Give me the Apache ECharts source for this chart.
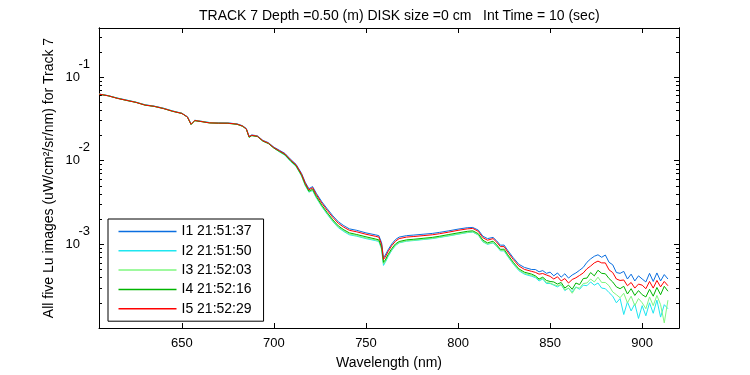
<!DOCTYPE html>
<html>
<head>
<meta charset="utf-8">
<script src="https://cdn.jsdelivr.net/npm/echarts@6/dist/echarts.min.js"></script>
<style>html,body{margin:0;padding:0;background:#fff}#c{width:750px;height:375px}</style>
</head>
<body>
<div id="c"></div>
<script>
const wavelengths = [605,610,615,620,625,630,635,640,645,650,653,655,657,660,665,670,675,680,683,685,686.5,688,691,694,697,700,
703,706,709,712,715,717,719,721,723,726,729,732,735,738,741,745,750,755,757,758.5,759.5,760.5,762,764,766,768,772,776,781,786,790,795,800,805,808,811,813.5,816,819,821,823,825,827,830,833,836,840,
842,844,846,848,850,852,854,856,858,860,862,864,866,868,870,872,874,876,878,880,882,884,886,888,890,892,894,896,898,900,902,904,906,908,910,912,914];

const seriesNames = ['I1 21:51:37','I2 21:51:50','I3 21:52:03','I4 21:52:16','I5 21:52:29'];

const i1 = [0.0626,0.0598,0.0560,0.0530,0.0500,0.0465,0.0448,0.0424,0.0392,0.0369,0.0335,0.0275,0.0304,0.0297,0.0285,0.0283,0.0282,0.0275,0.0261,0.0242,0.0196,0.0203,0.0198,0.0175,0.0164,0.0145,
0.0133,0.0122,0.0104,0.00905,0.00705,0.00552,0.00462,0.00490,0.00408,0.00323,0.00265,0.00219,0.00186,0.00167,0.00153,0.00147,0.00137,0.00130,0.00127,0.00104,0.000690,0.000745,0.000860,0.00101,0.00114,0.00122,0.00127,0.00129,0.00132,0.00135,0.00139,0.00145,0.00152,0.00158,0.00159,0.00148,0.00125,0.00117,0.00121,0.00110,0.000975,0.000980,0.000845,0.000690,0.000578,0.000530,0.000500,
0.000500,0.000470,0.000485,0.000450,0.000465,0.000420,0.000455,0.000405,0.000445,0.000395,0.000430,0.000455,0.000490,0.000530,0.000610,0.000670,0.000720,0.000750,0.000700,0.000745,0.000610,0.000570,0.000460,0.000450,0.000475,0.000385,0.000440,0.000365,0.000420,0.000385,0.000355,0.000450,0.000360,0.000455,0.000365,0.000435,0.000385];

const i2 = [0.0625,0.0599,0.0558,0.0528,0.0501,0.0466,0.0447,0.0422,0.0393,0.0368,0.0334,0.0273,0.0303,0.0296,0.0286,0.0282,0.0283,0.0274,0.0260,0.0241,0.0192,0.0200,0.0195,0.0172,0.0161,0.0142,
0.0127,0.0116,0.0098,0.00855,0.00655,0.00505,0.00420,0.00440,0.00360,0.00282,0.00228,0.00187,0.00158,0.00142,0.00130,0.00125,0.00117,0.00111,0.00108,0.000870,0.000560,0.000610,0.000715,0.000845,0.000965,0.00104,0.00109,0.00111,0.00114,0.00117,0.00121,0.00126,0.00132,0.00138,0.00140,0.00129,0.00107,0.00100,0.00104,0.000945,0.000835,0.000835,0.000715,0.000580,0.000485,0.000440,0.000415,
0.000400,0.000365,0.000385,0.000340,0.000340,0.000325,0.000310,0.000330,0.000280,0.000300,0.000270,0.000310,0.000290,0.000325,0.000320,0.000355,0.000325,0.000345,0.000300,0.000295,0.000265,0.000240,0.000200,0.000225,0.000145,0.000205,0.000160,0.000195,0.000130,0.000185,0.000140,0.000200,0.000150,0.000215,0.000135,0.000190,0.000170];

const i3 = [0.0623,0.0597,0.0557,0.0525,0.0499,0.0463,0.0444,0.0421,0.0389,0.0368,0.0331,0.0271,0.0301,0.0296,0.0284,0.0280,0.0280,0.0271,0.0258,0.0239,0.0191,0.0200,0.0195,0.0172,0.0161,0.0142,
0.0128,0.0117,0.0099,0.00860,0.00660,0.00510,0.00425,0.00445,0.00365,0.00285,0.00232,0.00190,0.00161,0.00145,0.00133,0.00127,0.00119,0.00113,0.00110,0.000890,0.000585,0.000625,0.000730,0.000860,0.000980,0.00105,0.00110,0.00112,0.00115,0.00118,0.00122,0.00127,0.00133,0.00139,0.00141,0.00130,0.00108,0.00101,0.00105,0.000955,0.000845,0.000845,0.000725,0.000590,0.000495,0.000450,0.000425,
0.000410,0.000375,0.000395,0.000350,0.000345,0.000330,0.000320,0.000330,0.000285,0.000300,0.000260,0.000305,0.000300,0.000340,0.000345,0.000385,0.000355,0.000405,0.000350,0.000350,0.000320,0.000270,0.000250,0.000230,0.000260,0.000200,0.000240,0.000185,0.000225,0.000200,0.000170,0.000235,0.000185,0.000245,0.000190,0.000115,0.000215];

const i4 = [0.0622,0.0595,0.0556,0.0524,0.0497,0.0460,0.0445,0.0419,0.0388,0.0366,0.0332,0.0270,0.0300,0.0294,0.0282,0.0280,0.0279,0.0272,0.0257,0.0238,0.0190,0.0199,0.0194,0.0171,0.0160,0.0141,
0.0129,0.0118,0.0100,0.00870,0.00670,0.00520,0.00432,0.00455,0.00374,0.00293,0.00238,0.00196,0.00166,0.00149,0.00137,0.00131,0.00123,0.00116,0.00113,0.000920,0.000610,0.000650,0.000755,0.000890,0.00101,0.00108,0.00113,0.00115,0.00118,0.00121,0.00125,0.00131,0.00137,0.00143,0.00145,0.00134,0.00112,0.00104,0.00109,0.000985,0.000870,0.000875,0.000750,0.000610,0.000510,0.000465,0.000440,
0.000420,0.000385,0.000405,0.000370,0.000360,0.000355,0.000335,0.000350,0.000300,0.000325,0.000290,0.000345,0.000330,0.000390,0.000395,0.000460,0.000420,0.000490,0.000450,0.000445,0.000390,0.000355,0.000310,0.000295,0.000315,0.000255,0.000295,0.000245,0.000280,0.000250,0.000235,0.000290,0.000240,0.000305,0.000250,0.000315,0.000275];

const i5 = [0.0624,0.0596,0.0555,0.0526,0.0498,0.0462,0.0446,0.0420,0.0390,0.0367,0.0333,0.0272,0.0302,0.0295,0.0283,0.0281,0.0281,0.0273,0.0259,0.0240,0.0193,0.0201,0.0196,0.0173,0.0162,0.0143,
0.0131,0.0120,0.0102,0.00889,0.00687,0.00537,0.00448,0.00475,0.00393,0.00311,0.00254,0.00210,0.00178,0.00160,0.00147,0.00141,0.00132,0.00125,0.00122,0.000992,0.000659,0.000706,0.000820,0.000965,0.00109,0.00117,0.00122,0.00124,0.00127,0.00130,0.00134,0.00140,0.00147,0.00153,0.00155,0.00143,0.00120,0.00112,0.00117,0.00106,0.000939,0.000939,0.000809,0.000659,0.000552,0.000502,0.000475,
0.000462,0.000440,0.000448,0.000430,0.000414,0.000385,0.000410,0.000365,0.000390,0.000345,0.000380,0.000398,0.000425,0.000455,0.000510,0.000550,0.000600,0.000630,0.000600,0.000600,0.000495,0.000460,0.000385,0.000370,0.000375,0.000320,0.000350,0.000300,0.000335,0.000325,0.000295,0.000360,0.000300,0.000370,0.000310,0.000360,0.000320];

const xTicks = [650,700,750,800,850,900];
const yMajor = [0.001,0.01,0.1];
const yMinor = [0.0002,0.0003,0.0004,0.0005,0.0006,0.0007,0.0008,0.0009,
  0.002,0.003,0.004,0.005,0.006,0.007,0.008,0.009,
  0.02,0.03,0.04,0.05,0.06,0.07,0.08,0.09,0.2,0.3];

const colors = ['#0a6ee0','#1ee6f0','#7ff77f','#00b400','#ff0000'];
const FONT = 'Liberation Sans, Arial, Helvetica, sans-serif';
const allSeries = [i1,i2,i3,i4,i5];
const X_MIN = 605, X_MAX = 920, Y_MIN = 0.0001, Y_MAX = 0.385;

const chart = echarts.init(document.getElementById('c'), null, {renderer:'canvas'});

function yAxisBase(pos, major, showLabel){
  return {
    type:'log', logBase:10, min:Y_MIN, max:Y_MAX, position:pos, gridIndex:0,
    axisLine:{show:true, lineStyle:{color:'#000', width:1}},
    axisTick:{show:true, inside:true, length: major?5:3, customValues: major?yMajor:yMinor, lineStyle:{color:'#000'}},
    minorTick:{show:false},
    splitLine:{show:false},
    axisLabel: showLabel ? {
      show:true, customValues:yMajor, margin:9, align:'right', padding:[0,0,13,0],
      color:'#000', fontFamily:FONT, fontSize:13,
      formatter: v => '{s|' + Math.round(Math.log10(v)) + '}\n{b|10}',
      rich:{ s:{fontFamily:FONT, fontSize:13, lineHeight:13, color:'#000'},
             b:{fontFamily:FONT, fontSize:13, lineHeight:13, color:'#000', padding:[0,10,0,0]} }
    } : {show:false}
  };
}
function xAxisBase(pos, showLabel){
  return {
    type:'value', min:X_MIN, max:X_MAX, position:pos, gridIndex:0,
    axisLine:{show:true, onZero:false, lineStyle:{color:'#000', width:1}},
    axisTick:{show:true, inside:true, length:5, customValues:xTicks, lineStyle:{color:'#000'}},
    splitLine:{show:false},
    axisLabel: showLabel ? {show:true, customValues:xTicks, margin:9, color:'#000', fontFamily:FONT, fontSize:13} : {show:false}
  };
}

const xa0 = xAxisBase('bottom', true);
xa0.name = 'Wavelength (nm)';
xa0.nameLocation = 'middle';
xa0.nameGap = 28;
xa0.nameMoveOverlap = false;
xa0.nameTextStyle = {color:'#000', fontFamily:FONT, fontSize:14};

const ya0 = yAxisBase('left', true, true);
ya0.name = 'All five Lu images (uW/cm\u00B2/sr/nm) for Track 7';
ya0.nameLocation = 'middle';
ya0.nameGap = 43;
ya0.nameMoveOverlap = false;
ya0.nameTextStyle = {color:'#000', fontFamily:FONT, fontSize:14};

const option = {
  backgroundColor:'#fff',
  animation:false,
  title:{
    text:'TRACK 7 Depth =0.50 (m) DISK size =0 cm   Int Time = 10 (sec)',
    left:194, top:4,
    textStyle:{color:'#000', fontFamily:FONT, fontSize:14, fontWeight:'normal'}
  },
  grid:{left:99, top:28, right:71, bottom:44, containLabel:false},
  xAxis:[xa0, xAxisBase('top', false)],
  yAxis:[ya0, yAxisBase('left', false, false), yAxisBase('right', true, false), yAxisBase('right', false, false)],
  legend:{
    orient:'vertical', left:108, top:219,
    data: seriesNames.map((n,k)=>({name:n, icon:'rect', itemStyle:{color:colors[k]}})),
    itemWidth:58, itemHeight:1.5, itemGap:5.3,
    padding:[5.5,12,5.5,10.5],
    borderColor:'#000', borderWidth:1, backgroundColor:'#fff',
    textStyle:{color:'#000', fontFamily:FONT, fontSize:14, lineHeight:14},
    selectedMode:false
  },
  series: allSeries.map((arr, k) => ({
    name: seriesNames[k], type:'line', xAxisIndex:0, yAxisIndex:0,
    data: wavelengths.map((w,i)=>[w, arr[i]]),
    symbol:'none', showSymbol:false,
    lineStyle:{color:colors[k], width:1},
    itemStyle:{color:colors[k]},
    z: 2+k
  }))
};
chart.setOption(option);
</script>
</body>
</html>
